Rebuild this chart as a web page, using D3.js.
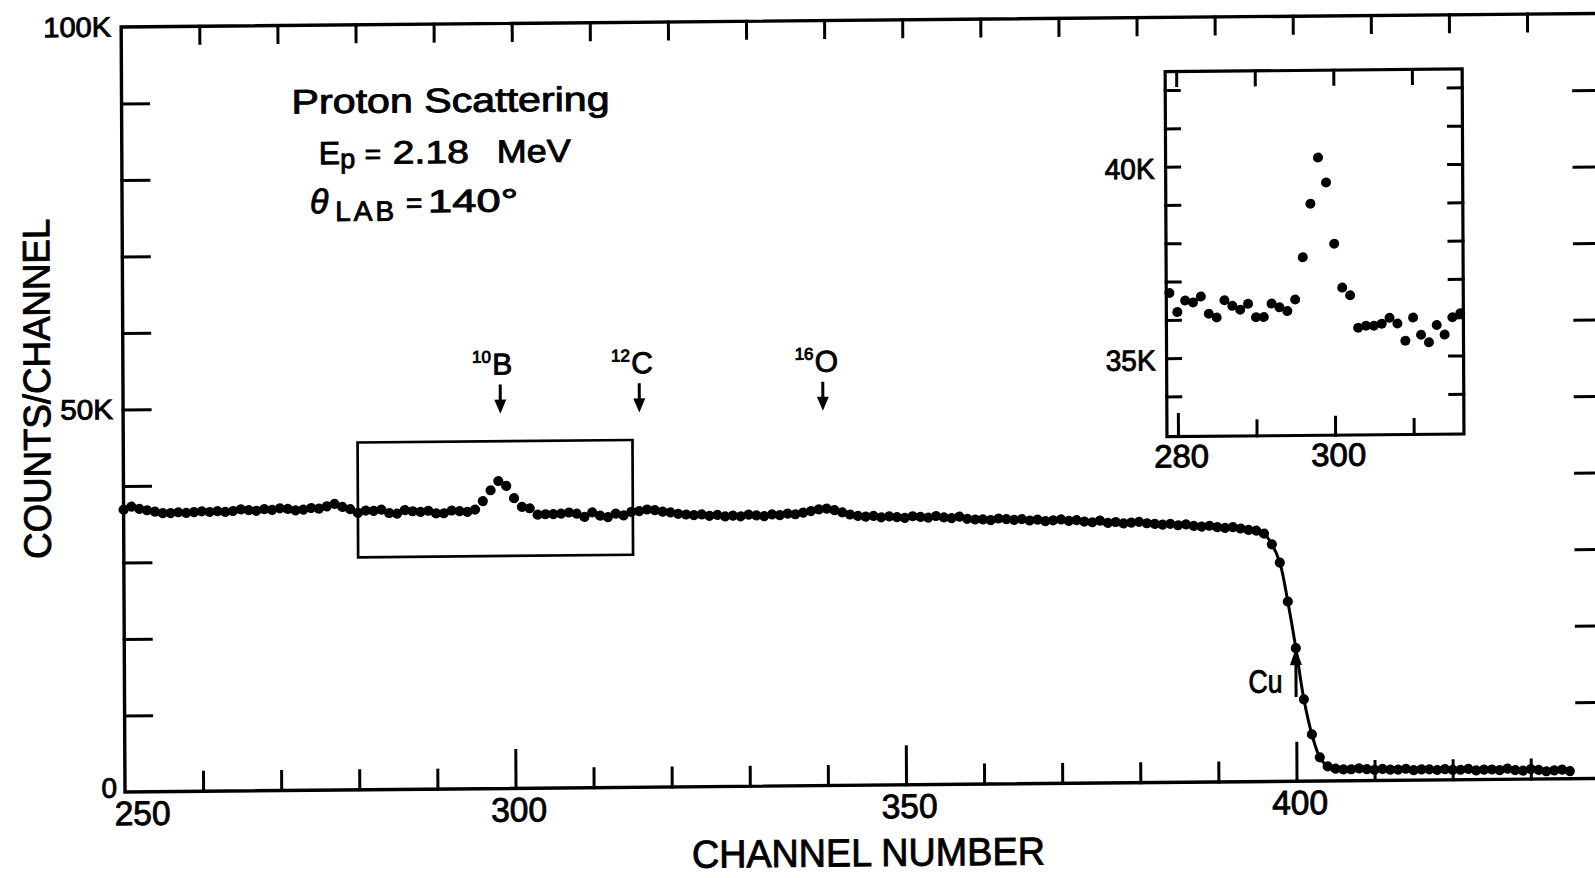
<!DOCTYPE html>
<html>
<head>
<meta charset="utf-8">
<script src="https://cdn.jsdelivr.net/npm/d3@7"></script>
<style>
  html, body { margin: 0; padding: 0; background: #fff; }
  svg { display: block; }
  text { font-family: "Liberation Sans", Arial, sans-serif; fill: #000; stroke: #000; stroke-width: 0.9px; }
</style>
</head>
<body>
<svg id="chart" width="1595" height="878"></svg>
<script>
// Proton scattering spectrum: counts per channel (thousands), channels 250..435
const firstChannel = 250;
const counts = [
  36.9, 37.3, 37.0, 36.8, 36.6, 36.4, 36.4, 36.5, 36.4, 36.5,
  36.6, 36.5, 36.6, 36.5, 36.6, 36.8, 36.7, 36.6, 36.8, 36.7,
  36.9, 36.8, 36.6, 36.7, 36.9, 36.8, 37.1, 37.4, 37.0, 36.7,
  36.2, 36.5, 36.45, 36.6, 36.15, 36.05, 36.5, 36.35, 36.25, 36.4,
  36.05, 36.05, 36.4, 36.3, 36.2, 36.5, 37.6, 39.0, 40.2, 39.55,
  37.95, 36.8, 36.6, 35.75, 35.8, 35.8, 35.85, 36.0, 35.85, 35.4,
  36.0, 35.55, 35.35, 35.8, 35.55, 36.0, 36.1, 36.3, 36.2, 36.0,
  35.9, 35.7, 35.6, 35.5, 35.6, 35.4, 35.5, 35.3, 35.4, 35.3,
  35.5, 35.4, 35.3, 35.5, 35.4, 35.6, 35.5, 35.7, 35.9, 36.1,
  36.2, 36.0, 35.7, 35.4, 35.2, 35.1, 35.2, 35.0, 35.1, 35.0,
  34.9, 35.1, 35.0, 34.9, 35.1, 34.9, 34.8, 35.0, 34.7, 34.6,
  34.6, 34.5, 34.7, 34.6, 34.5, 34.6, 34.4, 34.5, 34.3, 34.4,
  34.5, 34.3, 34.4, 34.2, 34.1, 34.3, 34.0, 34.1, 33.9, 34.0,
  34.1, 33.9, 33.8, 33.7, 33.8, 33.6, 33.7, 33.5, 33.4, 33.5,
  33.3, 33.2, 33.3, 33.1, 32.9, 32.8, 32.4, 31.0, 28.6, 23.5,
  17.4, 10.7, 6.1, 3.1, 1.9, 1.6, 1.5, 1.5, 1.6, 1.5,
  1.4, 1.5, 1.4, 1.4, 1.5, 1.3, 1.4, 1.4, 1.3, 1.4,
  1.3, 1.3, 1.4, 1.2, 1.3, 1.3, 1.2, 1.4, 1.2, 1.1,
  1.3, 1.2, 1.0, 1.1, 1.2, 1.0
];
const channels = counts.map((_, i) => firstChannel + i);
const spectrum = channels.map((c, i) => ({ c, v: counts[i] }));

// main axes
const xDomain = [250, 439];
const yDomain = [0, 100];
const xTicks = [260, 270, 280, 290, 300, 310, 320, 330, 340, 350, 360, 370, 380, 390, 400, 410, 420, 430];
const xMajorTicks = [300, 350, 400];
const xLabels = [250, 300, 350, 400];
const yTicks = [10, 20, 30, 40, 50, 60, 70, 80, 90];
const yLabels = [0, 50, 100];

// highlighted window and its enlarged view
const boxChannels = [280, 315.2];
const boxCounts = [30.4, 45.4];
const insetXDomain = [278.6, 316.4];
const insetYDomain = [32.95, 42.48];
const insetXTicks = [280, 290, 300, 310];
const insetXLabels = [280, 300];
const insetYTicks = [34, 35, 36, 37, 38, 39, 40, 41, 42];
const insetYLabels = [35, 40];

// isotope markers: mass number, element, channel
const isotopes = ["10", "12", "16"];
const elements = ["B", "C", "O"];
const isotopeChannels = [298.3, 316.1, 339.6];
const markerArrowFrom = 52.8, markerArrowTo = 49.0;
const edgeChannel = 400, edgeArrowFrom = 11.0, edgeArrowTo = 17.4;
const edgeLineRange = [395, 406];

const FONT = '"Liberation Sans", Arial, sans-serif';
const svg = d3.select("#chart");
// scanned sheet sits very slightly rotated on the page
const g = svg.append("g").attr("transform", "matrix(1,-0.0092,0.005,1,-3.96,1.15)");

const x = d3.scaleLinear().domain(xDomain).range([125, 1601.1]);
const y = d3.scaleLinear().domain(yDomain).range([792, 27]);

function styleTicks(sel, w) {
  sel.select(".domain").remove();
  sel.selectAll(".tick line").attr("stroke", "#000").attr("stroke-width", w).attr("stroke-linecap", "square");
}
function styleLabels(sel, size, len) {
  sel.select(".domain").remove();
  sel.selectAll(".tick line").remove();
  sel.selectAll("text")
    .attr("font-family", FONT).attr("font-size", size).attr("fill", "#000");
  if (len) sel.selectAll("text").attr("textLength", len).attr("lengthAdjust", "spacingAndGlyphs");
}

// ---- main frame ----
g.append("rect")
  .attr("x", x(xDomain[0])).attr("y", y(yDomain[1]))
  .attr("width", x(xDomain[1]) - x(xDomain[0])).attr("height", y(0) - y(100))
  .attr("fill", "none").attr("stroke", "#000").attr("stroke-width", 3.4);

const bottomTicks = g.append("g").attr("transform", `translate(0,${y(0)})`)
  .call(d3.axisBottom(x).tickValues(xTicks).tickSize(-19).tickFormat(""));
bottomTicks.selectAll(".tick line").attr("y2", d => xMajorTicks.includes(d) ? -38 : -19);
styleTicks(bottomTicks, 3);

const topTicks = g.append("g").attr("transform", `translate(0,${y(100)})`)
  .call(d3.axisTop(x).tickValues(xTicks).tickSize(-17).tickFormat(""));
styleTicks(topTicks, 3);

const leftTicks = g.append("g").attr("transform", `translate(${x(xDomain[0])},0)`)
  .call(d3.axisLeft(y).tickValues(yTicks).tickSize(-27).tickFormat(""));
styleTicks(leftTicks, 3);

const rightTicks = g.append("g").attr("transform", `translate(${x(xDomain[1])},0)`)
  .call(d3.axisRight(y).tickValues(yTicks).tickSize(-24).tickFormat(""));
styleTicks(rightTicks, 3);

const bottomLabels = g.append("g").attr("transform", `translate(0,${y(0)})`)
  .call(d3.axisBottom(x).tickValues(xLabels).tickSize(0).tickPadding(9).tickFormat(d3.format("d")));
styleLabels(bottomLabels, 34, 56);
bottomLabels.selectAll("text").attr("dx", d => d === 250 ? 17 : 3);

const leftLabels = g.append("g").attr("transform", `translate(${x(xDomain[0])},0)`)
  .call(d3.axisLeft(y).tickValues(yLabels).tickSize(0).tickPadding(10).tickFormat(d => d ? d + "K" : "0"));
styleLabels(leftLabels, 28);
leftLabels.selectAll("text")
  .attr("textLength", d => d === 100 ? 68 : d === 50 ? 53 : null)
  .attr("lengthAdjust", "spacingAndGlyphs")
  .attr("x", d => d === 0 ? -8 : -10)
  .attr("dy", d => d === 0 ? "0.18em" : "0.32em")
  .attr("font-size", 28);

// axis titles
g.append("text")
  .attr("transform", `translate(52,388) rotate(-90)`)
  .attr("text-anchor", "middle").attr("font-size", 38)
  .attr("textLength", 340).attr("lengthAdjust", "spacingAndGlyphs")
  .text("COUNTS/CHANNEL");
g.append("text")
  .attr("x", 868).attr("y", 873)
  .attr("text-anchor", "middle").attr("font-size", 39)
  .attr("textLength", 353).attr("lengthAdjust", "spacingAndGlyphs")
  .text("CHANNEL NUMBER");

// ---- experiment description ----
const desc = g.append("g");
desc.append("text").attr("x", 295).attr("y", 115).attr("font-size", 34)
  .attr("textLength", 318).attr("lengthAdjust", "spacingAndGlyphs").text("Proton Scattering");
const ep = desc.append("text").attr("x", 322).attr("y", 166).attr("font-size", 32);
ep.append("tspan").text("E");
ep.append("tspan").attr("dy", 4).attr("font-size", 27).text("p");
ep.append("tspan").attr("x", 368).attr("dy", -4).attr("font-size", 28).text("=");
desc.append("text").attr("x", 396).attr("y", 166).attr("font-size", 32)
  .attr("textLength", 76).attr("lengthAdjust", "spacingAndGlyphs").text("2.18");
desc.append("text").attr("x", 500).attr("y", 166).attr("font-size", 32)
  .attr("textLength", 74).attr("lengthAdjust", "spacingAndGlyphs").text("MeV");
const th = desc.append("text").attr("x", 313).attr("y", 215).attr("font-size", 34);
th.append("tspan").attr("font-style", "italic").text("θ");
th.append("tspan").attr("x", 338).attr("dy", 8).attr("font-size", 28).attr("letter-spacing", 3).text("LAB");
th.append("tspan").attr("x", 409).attr("dy", -8).attr("font-size", 28).text("=");
desc.append("text").attr("x", 431).attr("y", 215).attr("font-size", 32)
  .attr("textLength", 90).attr("lengthAdjust", "spacingAndGlyphs").text("140°");

// ---- window around the boron peak ----
g.append("rect")
  .attr("x", x(boxChannels[0])).attr("y", y(boxCounts[1]))
  .attr("width", x(boxChannels[1]) - x(boxChannels[0]))
  .attr("height", y(boxCounts[0]) - y(boxCounts[1]))
  .attr("fill", "none").attr("stroke", "#000").attr("stroke-width", 2.7);

// ---- isotope markers ----
function downArrow(sel, cx, y0, y1) {
  sel.append("line").attr("x1", cx).attr("x2", cx).attr("y1", y0).attr("y2", y1 - 10)
    .attr("stroke", "#000").attr("stroke-width", 3);
  sel.append("path").attr("d", `M${cx - 6},${y1 - 14}L${cx + 6},${y1 - 14}L${cx},${y1}Z`).attr("fill", "#000");
}
isotopeChannels.forEach((ch, i) => {
  const cx = x(ch);
  const m = g.append("g");
  const t = m.append("text").attr("x", cx - 28).attr("y", 366).attr("font-size", 17);
  t.append("tspan").text(isotopes[i]);
  t.append("tspan").attr("x", cx - 8).attr("dy", 12).attr("font-size", 30).text(elements[i]);
  downArrow(m, cx, y(markerArrowFrom), y(markerArrowTo));
});

// ---- spectrum ----
g.append("path")
  .datum(spectrum.filter(d => d.c >= edgeLineRange[0] && d.c <= edgeLineRange[1]))
  .attr("d", d3.line().x(d => x(d.c)).y(d => y(d.v)).curve(d3.curveCatmullRom))
  .attr("fill", "none").attr("stroke", "#000").attr("stroke-width", 3);
g.append("g").selectAll("circle").data(spectrum).join("circle")
  .attr("cx", d => x(d.c)).attr("cy", d => y(d.v)).attr("r", 5.1).attr("fill", "#000");

// copper edge marker
const cu = g.append("g");
const cuX = x(edgeChannel);
cu.append("line").attr("x1", cuX).attr("x2", cuX).attr("y1", y(edgeArrowFrom)).attr("y2", y(edgeArrowTo) + 12)
  .attr("stroke", "#000").attr("stroke-width", 3);
cu.append("path").attr("d", `M${cuX - 6},${y(edgeArrowTo) + 17}L${cuX + 6},${y(edgeArrowTo) + 17}L${cuX},${y(edgeArrowTo)}Z`)
  .attr("fill", "#000");
cu.append("text").attr("x", 1249).attr("y", 703).attr("font-size", 32)
  .attr("textLength", 34).attr("lengthAdjust", "spacingAndGlyphs").text("Cu");

// ---- inset: enlarged boron region ----
const ix = d3.scaleLinear().domain(insetXDomain).range([1168.7, 1465.7]);
const iy = d3.scaleLinear().domain(insetYDomain).range([446.3, 81.3]);
const inset = g.append("g");
inset.append("rect")
  .attr("x", ix.range()[0]).attr("y", iy.range()[1])
  .attr("width", ix.range()[1] - ix.range()[0]).attr("height", iy.range()[0] - iy.range()[1])
  .attr("fill", "#fff").attr("stroke", "#000").attr("stroke-width", 3.2);

const ib = inset.append("g").attr("transform", `translate(0,${iy.range()[0]})`)
  .call(d3.axisBottom(ix).tickValues(insetXTicks).tickSize(-15).tickFormat(""));
ib.selectAll(".tick line").attr("y2", d => d === 280 ? -22 : d === 300 ? -18 : -15);
styleTicks(ib, 3);
const it = inset.append("g").attr("transform", `translate(0,${iy.range()[1]})`)
  .call(d3.axisTop(ix).tickValues(insetXTicks).tickSize(-14).tickFormat(""));
styleTicks(it, 3);
const il = inset.append("g").attr("transform", `translate(${ix.range()[0]},0)`)
  .call(d3.axisLeft(iy).tickValues(insetYTicks).tickSize(-14).tickFormat(""));
styleTicks(il, 3);
const ir = inset.append("g").attr("transform", `translate(${ix.range()[1]},0)`)
  .call(d3.axisRight(iy).tickValues(insetYTicks).tickSize(-14).tickFormat(""));
styleTicks(ir, 3);

const ibl = inset.append("g").attr("transform", `translate(0,${iy.range()[0]})`)
  .call(d3.axisBottom(ix).tickValues(insetXLabels).tickSize(0).tickPadding(8).tickFormat(d3.format("d")));
styleLabels(ibl, 32, 55);
ibl.selectAll("text").attr("dx", 3);
const ill = inset.append("g").attr("transform", `translate(${ix.range()[0]},0)`)
  .call(d3.axisLeft(iy).tickValues(insetYLabels).tickSize(0).tickPadding(11).tickFormat(d => d + "K"));
styleLabels(ill, 29, 50);
ill.selectAll("text").attr("dy", "0.4em");

inset.append("g").selectAll("circle")
  .data(spectrum.filter(d => d.c >= insetXDomain[0] && d.c <= insetXDomain[1]))
  .join("circle")
  .attr("cx", d => ix(d.c)).attr("cy", d => iy(d.v)).attr("r", 5).attr("fill", "#000");
</script>
</body>
</html>
